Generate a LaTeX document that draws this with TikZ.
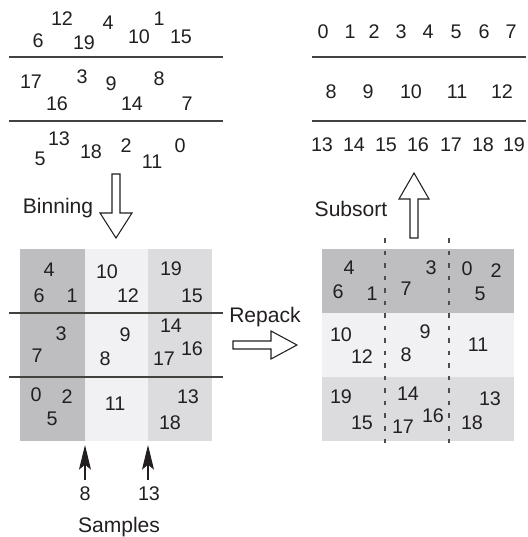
\documentclass[tikz,border=0pt]{standalone}
\usepackage{fontspec}
\setmainfont{Liberation Sans}
\usetikzlibrary{arrows.meta}

\definecolor{ink}{HTML}{231F20}
\definecolor{bindark}{HTML}{BEBEC1}
\definecolor{binlight}{HTML}{F1F1F3}
\definecolor{binmid}{HTML}{DCDCDE}

\begin{document}
\begin{tikzpicture}[x=0.75pt, y=-0.75pt,
	num/.style={inner sep=0pt, text=ink, font=\fontsize{14.8}{16}\selectfont},
	lbl/.style={inner sep=0pt, text=ink, anchor=base, font=\fontsize{15.8}{18}\selectfont},
	rule/.style={draw=ink!85, line width=0.9pt},
	fatarrow/.style={draw=ink, fill=white, line width=0.8pt, line join=miter},
	sample/.style={-{Stealth[length=18.5pt,width=9pt,inset=3.75pt]}, draw=ink, line width=0.8pt, shorten <=5.25pt},
	bindiv/.style={draw=ink!80, line width=1pt, dash pattern=on 3.4pt off 6pt}]
				\useasboundingbox (0,0) rectangle (528,537);
				
				% Unsorted input
				\draw[rule] (9,57) -- (223,57);
				\draw[rule] (9,121) -- (223,121);
				\foreach \t/\px/\py in {12/62/19, 6/38/41, 19/84/43, 4/108/23, 10/139/37, 1/159/19, 15/181/37,
					17/31/82, 3/82/77, 9/111/84, 8/159/79, 16/57/104, 14/132/104, 7/187/104,
					13/59/139, 5/40/159, 18/91/152, 2/126/146, 11/152/162, 0/180/146}
					\node[num] (u\t) at (\px,\py) {\t};
				
				% Sorted output
				\draw[rule] (312,57) -- (526,57);
				\draw[rule] (312,121) -- (526,121);
				\foreach \t/\px in {0/323, 1/350, 2/374, 3/401, 4/428, 5/456, 6/484, 7/511}
					\node[num] (s\t) at (\px,32) {\t};
				\foreach \t/\px in {8/331, 9/368, 10/411, 11/457, 12/502}
					\node[num] (s\t) at (\px,92) {\t};
				\foreach \t/\px in {13/322, 14/354, 15/386, 16/418, 17/451, 18/483, 19/514}
					\node[num] (s\t) at (\px,145) {\t};
				
				% Binning
				\draw[fatarrow] (112,174) -- (120,174) -- (120,213) -- (132,213) -- (116,238)
					-- (100,213) -- (112,213) -- cycle;
				\node[lbl] (binning) at (58,213) {Binning};
				
				% Binned grid, shaded by column
				\fill[bindark] (20,249) rectangle (85,441);
				\fill[binlight] (85,249) rectangle (148,441);
				\fill[binmid] (148,249) rectangle (212,441);
				\draw[rule] (9,313) -- (223,313);
				\draw[rule] (9,377) -- (223,377);
				\foreach \t/\px/\py in {4/49/270, 6/39/296, 1/72/296, 10/107/272, 12/128/296, 19/171/269, 15/192/296,
					3/61/334, 7/37/356, 9/125/335, 8/105/359, 14/171/326, 17/164/359, 16/192/349,
					0/36/395, 2/67/397, 5/52/419, 11/115/404, 13/188/397, 18/170/423}
					\node[num] (b\t) at (\px,\py) {\t};
				
				% Samples
				\coordinate (cut8) at (85,445);
				\coordinate (cut13) at (148,445);
				\node[num] (smp8) at (85,494) {8};
				\node[num] (smp13) at (149,494) {13};
				\draw[sample] (smp8.north) -- (cut8);
				\draw[sample] ([xshift=-0.75pt]smp13.north) -- (cut13);
				\node[lbl] (samples) at (119,532) {Samples};
				
				% Repack
				\draw[fatarrow] (233,341) -- (271,341) -- (271,331) -- (297,345) -- (271,359)
					-- (271,349) -- (233,349) -- cycle;
				\node[lbl] (repack) at (265,322) {Repack};
				
				% Repacked grid, shaded by row
				\fill[bindark] (322,249) rectangle (514,313);
				\fill[binlight] (322,313) rectangle (514,377);
				\fill[binmid] (322,377) rectangle (514,441);
				\draw[bindiv] (385,238) -- (385,447);
				\draw[bindiv] (449,238) -- (449,447);
				\foreach \t/\px/\py in {4/349/268, 6/338/292, 1/372/294, 7/406/289, 3/431/268, 0/467/269, 2/496/271, 5/480/294,
					10/341/335, 12/362/357, 9/425/332, 8/406/355, 11/478/345,
					19/341/397, 15/362/423, 14/408/394, 17/403/427, 16/433/416, 13/490/399, 18/472/423}
					\node[num] (r\t) at (\px,\py) {\t};
				
				% Subsort
				\draw[fatarrow] (410,238) -- (418,238) -- (418,199) -- (429,199) -- (414,173)
					-- (399,199) -- (410,199) -- cycle;
				\node[lbl] (subsort) at (351,216) {Subsort};
			\end{tikzpicture}
\end{document}
